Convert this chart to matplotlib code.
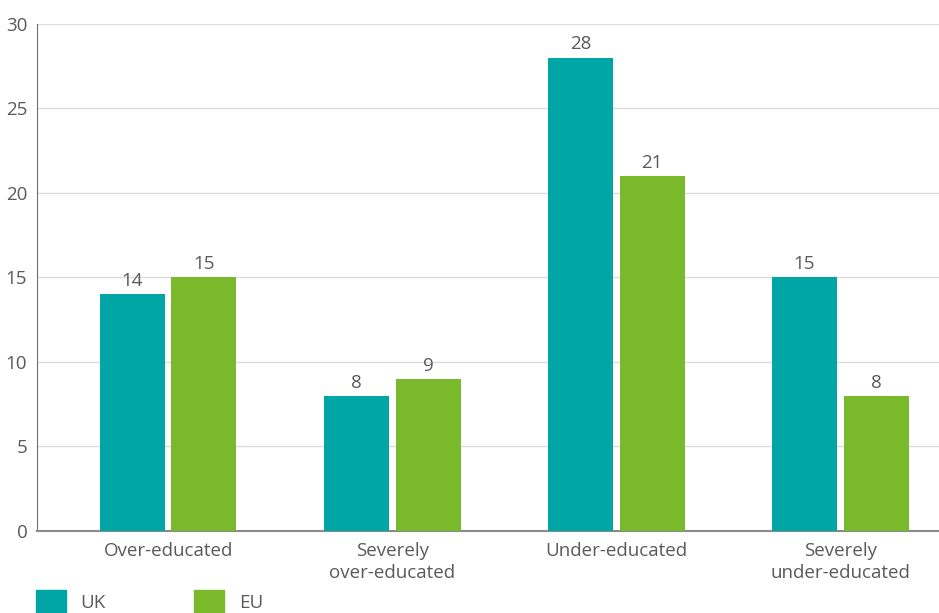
import numpy as np
import matplotlib.pyplot as plt
from matplotlib.patches import Patch

# Données
categories = ["Over-educated", "Severely\nover-educated", "Under-educated", "Severely\nunder-educated"]
uk = [14, 8, 28, 15]
eu = [15, 9, 21, 8]

teal = "#00a6a6"
green = "#7ab82c"
grey_text = "#5a5a5a"
fs = 13.5

plt.rcParams['font.family'] = ['Open Sans', 'DejaVu Sans']

fig = plt.figure(figsize=(9.39, 6.13), dpi=100)
ax = fig.add_axes([0.0394, 0.1338, 0.9606, 0.8272])

x = np.arange(len(categories))
w = 0.29
off = 0.16
b1 = ax.bar(x - off, uk, w, color=teal, zorder=3)
b2 = ax.bar(x + off, eu, w, color=green, zorder=3)

for bars, vals in [(b1, uk), (b2, eu)]:
    for bar, v in zip(bars, vals):
        ax.text(bar.get_x() + bar.get_width() / 2, v + 0.25, str(v),
                ha="center", va="bottom", fontsize=fs, color=grey_text)

ax.set_xlim(-0.585, 3.44)
ax.set_ylim(0, 30)
ax.set_yticks(range(0, 31, 5))
ax.set_xticks(x)
ax.set_xticklabels(categories, linespacing=1.25)
ax.tick_params(axis="x", length=0, pad=8, labelsize=fs, labelcolor=grey_text)
ax.tick_params(axis="y", length=0, pad=7, labelsize=fs, labelcolor=grey_text)
ax.yaxis.grid(True, color="#dcdcdc", linewidth=1, zorder=0)
for s in ["top", "right"]:
    ax.spines[s].set_visible(False)
ax.spines["left"].set_color("#6e6e6e")
ax.spines["bottom"].set_color("#8a8a8a")
ax.spines["bottom"].set_linewidth(1.5)

handles = [Patch(color=teal, label="UK"), Patch(color=green, label="EU")]
fig.legend(handles=handles, loc="lower left", bbox_to_anchor=(0.03, -0.014), ncol=2,
           frameon=False, handlelength=1.6, handleheight=1.6, handletextpad=0.8,
           columnspacing=4.7, fontsize=fs, labelcolor=grey_text, borderaxespad=0)

fig.savefig("out.png", dpi=100)
